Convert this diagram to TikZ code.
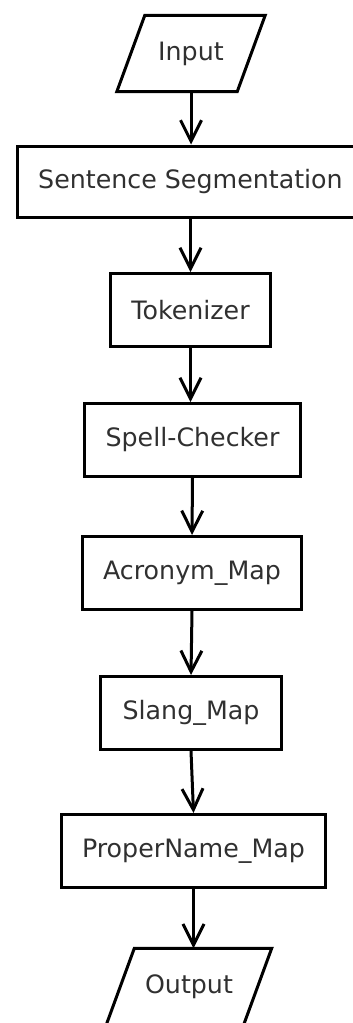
\documentclass[tikz,border=0pt]{standalone}
\usepackage{fontspec}
\setmainfont{DejaVu Sans}
\usetikzlibrary{arrows.meta}
\definecolor{labelgray}{HTML}{303030}
\tikzset{
  labelfont/.style={text=labelgray, font=\fontsize{25.3}{30}\selectfont},
  stage/.style={draw=black, line width=3pt, rectangle, inner sep=0pt, labelfont},
  iobody/.style={rectangle, inner sep=0pt, labelfont},
  ioframe/.style={draw=black, line width=3pt, line join=miter},
  flow/.style={line width=3pt, -{Straight Barb[length=21pt,width=21pt]}},
}
% slanted frame around an input/output node
\newcommand{\ioframe}[1]{%
  \draw[ioframe] ([xshift=14pt]#1.north west) -- ([xshift=14pt]#1.north east)
    -- ([xshift=-14pt]#1.south east) -- ([xshift=-14pt]#1.south west) -- cycle;}
\begin{document}
\begin{tikzpicture}[x=1pt,y=-1pt]
  \useasboundingbox (0,0) rectangle (353,1023);
  \clip (0,0) rectangle (353,1023);

  % input / output
  \node[iobody, minimum width=120, minimum height=76] (in) at (191,53.5) {Input};
  \ioframe{in}
  \node[iobody, minimum width=137, minimum height=76] (out) at (189,986.5) {Output};
  \ioframe{out}

  % processing stages
  \node[stage, minimum width=346, minimum height=71] (seg) at (190.5,181.5) {Sentence Segmentation};
  \node[stage, minimum width=160, minimum height=73] (tok) at (190.5,310) {Tokenizer};
  \node[stage, minimum width=216, minimum height=73] (spell) at (192.5,440) {Spell-Checker};
  \node[stage, minimum width=219, minimum height=73] (acr) at (192,573) {Acronym\_Map};
  \node[stage, minimum width=181, minimum height=73] (slang) at (191,713) {Slang\_Map};
  \node[stage, minimum width=264, minimum height=73] (pn) at (193.5,851) {ProperName\_Map};

  % connectors
  \draw[flow] (in.south) -- (in.south |- seg.north);
  \draw[flow] (seg.south) -- (tok.north);
  \draw[flow] (tok.south) -- (tok.south |- spell.north);
  \draw[flow] (spell.south) -- (acr.north);
  \draw[flow] (acr.south) -- (slang.north);
  \draw[flow] (slang.south) -- (pn.north);
  \draw[flow] (pn.south) -- (pn.south |- out.north);
\end{tikzpicture}
\end{document}
